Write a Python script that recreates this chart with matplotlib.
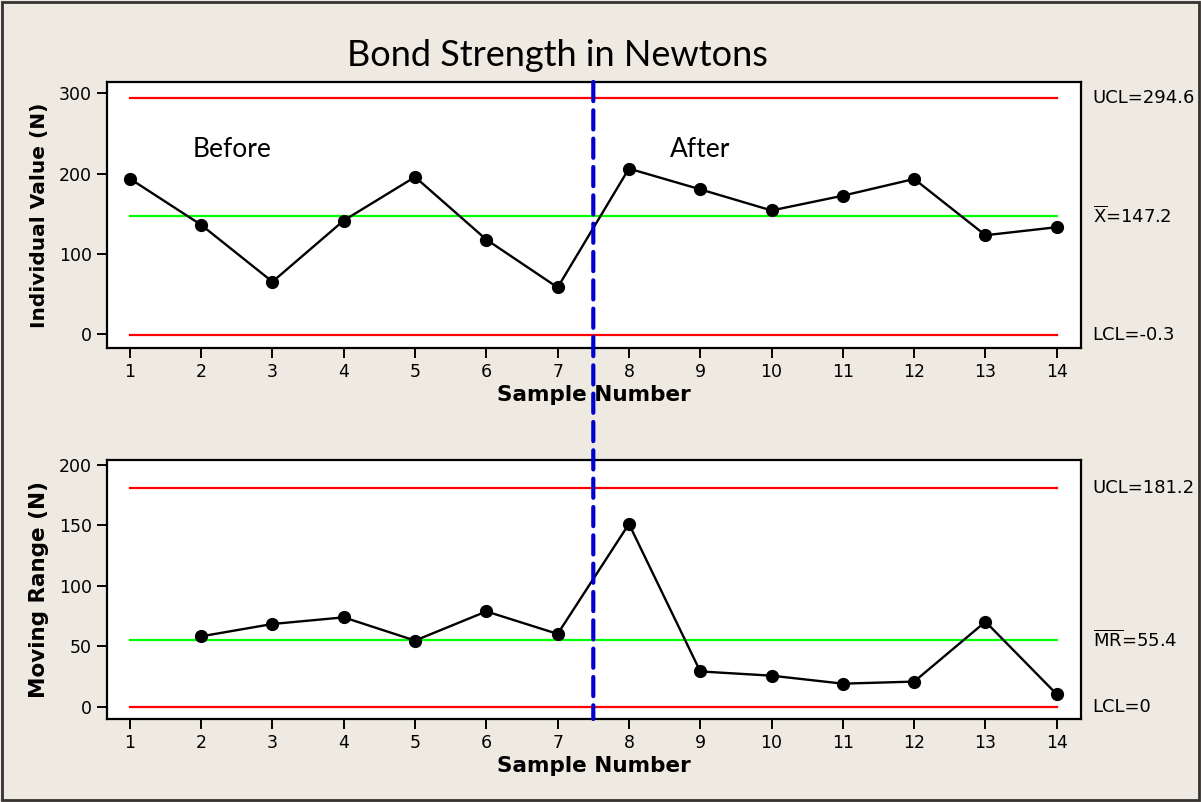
import numpy as np
import matplotlib
matplotlib.use("Agg")
import matplotlib.pyplot as plt
import matplotlib.transforms as mtransforms
from matplotlib.patches import Rectangle, ConnectionPatch

# sample numbers and readings
samples = list(range(1, 15))
individual = [193.7, 136.2, 65.4, 141.6, 195.8, 117.9, 58.3,
              206.2, 180.4, 154.1, 172.5, 193.3, 123.3, 133.3]
mr_samples = list(range(2, 15))
moving_range = [58.3, 68.5, 74.0, 54.8, 78.9, 60.3,
                151.2, 29.3, 25.8, 19.2, 20.9, 70.4, 10.4]

# control limits
i_ucl, i_mean, i_lcl = 294.6, 147.2, -0.3
mr_ucl, mr_mean, mr_lcl = 181.2, 55.4, 0.0
i_labels = ["UCL=294.6", r"$\overline{\mathrm{X}}$=147.2", "LCL=-0.3"]
mr_labels = ["UCL=181.2", r"$\overline{\mathrm{MR}}$=55.4", "LCL=0"]
split = 7.5

bg = "#EEEAE1"
fig = plt.figure(figsize=(12.01, 8.02), dpi=100, facecolor=bg)
ax1 = fig.add_axes([0.0891, 0.5661, 0.811, 0.3317])
ax2 = fig.add_axes([0.0891, 0.1035, 0.811, 0.3229])

def style(ax, ylim, yticks, ylabel, ysize):
    ax.set_facecolor("white")
    ax.set_xlim(0.68, 14.34)
    ax.set_ylim(*ylim)
    ax.set_xticks(samples)
    ax.set_yticks(yticks)
    for s in ax.spines.values():
        s.set_linewidth(1.6)
        s.set_color("black")
    ax.tick_params(direction="out", length=7, width=1.4, labelsize=12.5, pad=4)
    ax.set_xlabel("Sample Number", fontsize=15.5, fontweight="bold", labelpad=3)
    ax.set_ylabel(ylabel, fontsize=ysize, fontweight="bold", labelpad=7)

style(ax1, (-17, 314), [0, 100, 200, 300], "Individual Value (N)", 14.5)
style(ax2, (-10, 204), [0, 50, 100, 150, 200], "Moving Range (N)", 15.5)

def limits(ax, vals, labels):
    trans = mtransforms.blended_transform_factory(ax.transAxes, ax.transData)
    for v, c, lab in zip(vals, ["red", "#00FF00", "red"], labels):
        ax.plot([samples[0], samples[-1]], [v, v], color=c, lw=1.6, zorder=2)
        ax.text(1.012, v, lab, transform=trans, fontsize=13, va="center", ha="left")

limits(ax1, [i_ucl, i_mean, i_lcl], i_labels)
limits(ax2, [mr_ucl, mr_mean, mr_lcl], mr_labels)

ax1.plot(samples, individual, "-o", color="black", lw=1.7, ms=8.5, zorder=3)
ax2.plot(mr_samples, moving_range, "-o", color="black", lw=1.7, ms=8.5, zorder=3)

ax1.text(2.43, 230, "Before", fontsize=19, family="Lato", ha="center", va="center")
ax1.text(9.0, 230, "After", fontsize=19, family="Lato", ha="center", va="center")

fig.text(557 / 1201, 1 - 55 / 802, "Bond Strength in Newtons", fontsize=26,
         family="Lato", ha="center", va="center")

# dashed split line across both panels
con = ConnectionPatch(xyA=(split, 1), coordsA=ax1.get_xaxis_transform(),
                      xyB=(split, 0), coordsB=ax2.get_xaxis_transform(),
                      color="#0000CC", lw=3, linestyle=(0, (4.6, 2.2)), zorder=10)
fig.add_artist(con)

fig.add_artist(Rectangle((0.002, 0.003), 0.996, 0.994, transform=fig.transFigure,
                         fill=False, edgecolor="#333333", lw=2))

fig.savefig("out.png", dpi=100, facecolor=bg)
